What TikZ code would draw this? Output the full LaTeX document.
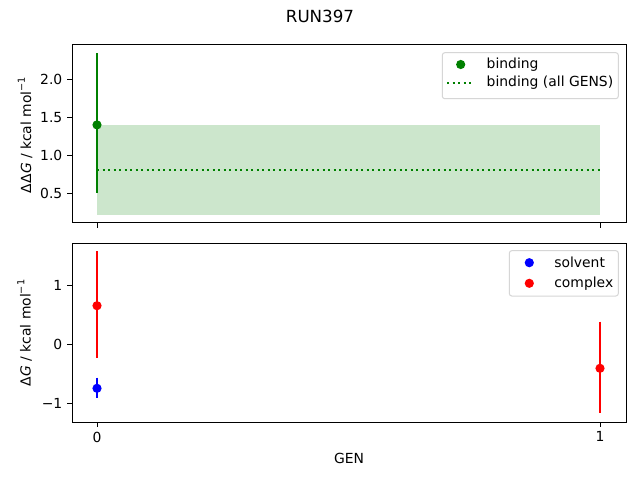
\documentclass[tikz,border=0pt]{standalone}
\usepackage{fontspec}
\setmainfont{DejaVu Sans}
\newfontfamily\obl{DejaVu Sans Oblique}
\begin{document}
\begin{tikzpicture}[x=1bp,y=-1bp,
  every node/.style={inner sep=0pt,outer sep=0pt,font=\fontsize{13.9bp}{16bp}\selectfont},
  axline/.style={line width=1bp,black},
  tickmark/.style={line width=1bp,black},
  ebar/.style={line width=2bp},
  legbox/.style={draw=black!20,line width=1bp,rounded corners=2.5bp,fill=white,fill opacity=0.8,draw opacity=0.8}]
\definecolor{mgreen}{RGB}{0,128,0}
\definecolor{mfill}{RGB}{204,230,204}
\useasboundingbox (0,0) rectangle (640,480);
\fill[white] (0,0) rectangle (640,480);
% title
\node (title) at (320,16.5) {\fontsize{16.7bp}{19bp}\selectfont RUN397};
% ===== top axes =====
\coordinate (tA) at (72,45);
\coordinate (tB) at (626,223);
\fill[mfill] (97,124.9) rectangle (600,215);
\draw[mgreen,line width=2bp,dash pattern=on 2bp off 3.5bp] (97,170.5) -- (600,170.5);
\draw[ebar,mgreen] (97,53.3) -- (97,193.3);
\fill[mgreen] (97,124.9) circle (4.6);
\draw[axline] (tA) rectangle (tB);
% y ticks top
\foreach \v/\lab in {2.0/2.0,1.5/1.5,1.0/1.0,0.5/0.5}{
  \pgfmathsetmacro{\yy}{155.3-76*(\v-1)}
  \draw[tickmark] (72,\yy) -- (67.1,\yy);
  \node[anchor=east] (ty\lab) at (62.3,\yy) {\lab};
}
% x ticks top
\draw[tickmark] (97,223) -- (97,227.9);
\draw[tickmark] (600,223) -- (600,227.9);
% ylabel top
\node[rotate=90] (ylt) at (25,135) {ΔΔ{\obl G} / kcal mol\raisebox{0.45em}{\fontsize{9.7bp}{11bp}\selectfont −1}};
% legend top
\draw[legbox] (442.3,52.7) rectangle (618.3,98.7);
\fill[mgreen] (460.7,64.5) circle (4.6);
\node[anchor=west] (lg1) at (486.7,64.5) {binding};
\draw[mgreen,line width=2bp,dash pattern=on 2bp off 3.5bp] (447,83) -- (474,83);
\node[anchor=west] (lg2) at (486.7,83) {binding (all GENS)};
% ===== bottom axes =====
\coordinate (bA) at (72,243);
\coordinate (bB) at (626,422);
\draw[ebar,red] (97,251) -- (97,358.3);
\fill[red] (97,305.7) circle (4.6);
\draw[ebar,blue] (97,377.7) -- (97,397.7);
\fill[blue] (97,388.3) circle (4.6);
\draw[ebar,red] (600,321.7) -- (600,413.3);
\fill[red] (600,368.3) circle (4.6);
\draw[axline] (bA) rectangle (bB);
\foreach \v/\lab in {1/1,0/0,-1/−1}{
  \pgfmathsetmacro{\yy}{344.3-59*\v}
  \draw[tickmark] (72,\yy) -- (67.1,\yy);
  \node[anchor=east] at (62.3,\yy) {\lab};
}
\draw[tickmark] (97,422) -- (97,426.9);
\draw[tickmark] (600,422) -- (600,426.9);
\node[anchor=north] (x0) at (97,431.8) {0};
\node[anchor=north] (x1) at (600,431.8) {1};
\node (xl) at (349,458) {GEN};
\node[rotate=90] (ylb) at (24.5,333) {Δ{\obl G} / kcal mol\raisebox{0.45em}{\fontsize{9.7bp}{11bp}\selectfont −1}};
% legend bottom
\draw[legbox] (509.3,250.7) rectangle (618.3,296);
\fill[blue] (529.3,262.7) circle (4.6);
\node[anchor=west] (lb1) at (554.3,262.7) {solvent};
\fill[red] (529.3,283.3) circle (4.6);
\node[anchor=west] (lb2) at (554.3,283.3) {complex};
\end{tikzpicture}
\end{document}
